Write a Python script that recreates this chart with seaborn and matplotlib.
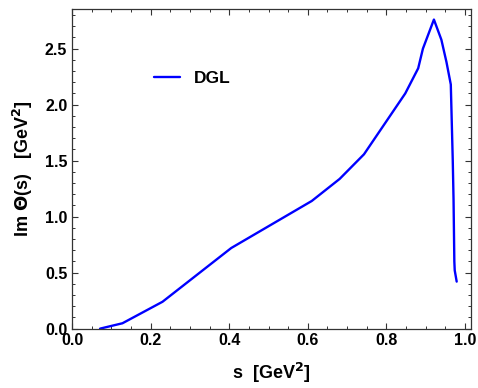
import matplotlib
matplotlib.use("Agg")
import matplotlib.pyplot as plt
from matplotlib.ticker import MultipleLocator
import pandas as pd
import seaborn as sns

# values
s_vals = [0.071, 0.128, 0.23, 0.405, 0.61, 0.681, 0.743, 0.848, 0.881, 0.893,
          0.921, 0.940, 0.953, 0.964, 0.969, 0.971, 0.973, 0.974, 0.979]
im_vals = [0.0, 0.048, 0.24, 0.72, 1.14, 1.337, 1.557, 2.10, 2.325, 2.50,
           2.76, 2.58, 2.38, 2.18, 1.5, 1.15, 0.6, 0.52, 0.42]
series_name = "DGL"

sns.set_style("ticks")
plt.rcParams["font.family"] = ["Liberation Sans", "DejaVu Sans"]
plt.rcParams["font.weight"] = "bold"
plt.rcParams["text.color"] = "black"
plt.rcParams["axes.labelcolor"] = "black"

df = pd.DataFrame({"s": s_vals, "im": im_vals, "label": series_name})

fig, ax = plt.subplots(figsize=(4.78, 3.88), dpi=100)
sns.lineplot(data=df, x="s", y="im", hue="label", palette=["#0000ff"],
             sort=False, estimator=None, linewidth=1.7, ax=ax)

ax.set_xlim(0, 1.015)
ax.set_ylim(0, 2.855)
ax.xaxis.set_major_locator(MultipleLocator(0.2))
ax.xaxis.set_minor_locator(MultipleLocator(0.05))
ax.yaxis.set_major_locator(MultipleLocator(0.5))
ax.yaxis.set_minor_locator(MultipleLocator(0.1))
ax.tick_params(which="both", direction="in", top=True, right=True,
               labelsize=11.5, colors="#333333", labelcolor="black")
ax.tick_params(which="major", length=4, width=0.8)
ax.tick_params(which="minor", length=2.5, width=0.7)
for lab in ax.get_xticklabels() + ax.get_yticklabels():
    lab.set_fontweight("bold")
for sp in ax.spines.values():
    sp.set_visible(True)
    sp.set_color("#333333")
    sp.set_linewidth(0.9)

ax.set_xlabel(r"s  [GeV$^\mathbf{2}$]", fontsize=13, fontweight="bold",
              color="black", labelpad=9)
ax.set_ylabel(r"Im $\mathbf{\Theta}$(s)   [GeV$^\mathbf{2}$]", fontsize=13,
              fontweight="bold", color="black", labelpad=7)

leg = ax.legend(loc="upper left", bbox_to_anchor=(0.165, 0.855), frameon=False,
                handlelength=1.5, prop={"size": 12.5, "weight": "bold"})
leg.set_title(None)
for t in leg.get_texts():
    t.set_fontweight("bold")
    t.set_color("black")

fig.subplots_adjust(left=0.151, right=0.985, top=0.977, bottom=0.153)
fig.savefig("out.png", dpi=100)
